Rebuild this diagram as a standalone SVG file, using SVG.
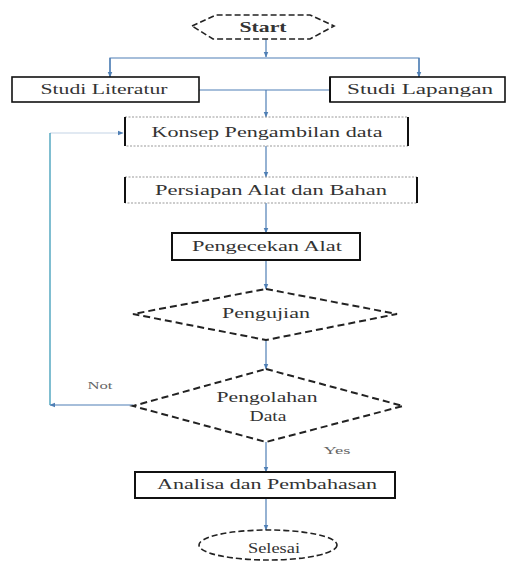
<svg xmlns="http://www.w3.org/2000/svg" width="507" height="561" viewBox="0 0 507 561">
<defs>
<style>
.t{font-family:"Liberation Serif","Times New Roman",serif;font-size:14px;fill:#333;text-anchor:middle}
.s{font-size:11px;fill:#666}
.b{font-weight:bold}
.box{fill:#fff;stroke:#111;stroke-width:1.6}
.lbox{fill:#fff;stroke:#999;stroke-width:1;stroke-dasharray:2 1.5}
.side{stroke:#111;stroke-width:2}
.dash{fill:#fff;stroke:#222;stroke-width:2;stroke-dasharray:7 4}
.c{fill:none;stroke:#4f7fb5;stroke-width:1.2}
.c2{fill:none;stroke:#4aa3bd;stroke-width:1.4}
</style>
<marker id="ah" viewBox="0 0 10 10" refX="9" refY="5" markerWidth="6" markerHeight="6" orient="auto" markerUnits="userSpaceOnUse">
<path d="M0,1 L10,5 L0,9 z" fill="#4f7fb5"/>
</marker>
</defs>
<g id="connectors">
<line class="c" x1="266" y1="39" x2="266" y2="57" marker-end="url(#ah)"/>
<polyline class="c" points="110,77 110,58 419,58 419,77"/>
<line class="c" x1="110" y1="58" x2="110" y2="77" marker-end="url(#ah)"/>
<line class="c" x1="419" y1="58" x2="419" y2="77" marker-end="url(#ah)"/>
<line class="c" x1="199" y1="90" x2="330" y2="90"/>
<line class="c" x1="266" y1="90" x2="266" y2="117" marker-end="url(#ah)"/>
<line class="c" x1="266" y1="146" x2="266" y2="177" marker-end="url(#ah)"/>
<line class="c" x1="266" y1="203" x2="266" y2="233" marker-end="url(#ah)"/>
<line class="c" x1="266" y1="260" x2="266" y2="289" marker-end="url(#ah)"/>
<line class="c" x1="266" y1="340" x2="266" y2="369" marker-end="url(#ah)"/>
<line class="c" x1="133" y1="405" x2="50" y2="405" marker-end="url(#ah)"/>
<polyline class="c2" points="50,405 50,133"/>
<line class="c" x1="50" y1="133" x2="123" y2="133" stroke-opacity="0.35" marker-end="url(#ah)"/>
<line class="c" x1="266" y1="442" x2="266" y2="472" marker-end="url(#ah)"/>
<line class="c" x1="266" y1="498" x2="266" y2="530" marker-end="url(#ah)"/>
<text class="t s" x="100" y="389" textLength="25" lengthAdjust="spacingAndGlyphs">Not</text>
<text class="t s" x="337" y="454" textLength="27" lengthAdjust="spacingAndGlyphs">Yes</text>
</g>
<g id="start">
<polygon class="dash" points="192,26 216,15 310,15 334,26 310,39 213,39" style="stroke-width:1.6;stroke-dasharray:6 3"/>
<text class="t b" x="263" y="32" textLength="47" lengthAdjust="spacingAndGlyphs">Start</text>
</g>
<g id="studi-literatur">
<rect class="box" x="12" y="77" width="187" height="25"/>
<text class="t" x="104" y="94" textLength="127" lengthAdjust="spacingAndGlyphs">Studi Literatur</text>
</g>
<g id="studi-lapangan">
<rect class="box" x="330" y="77" width="175" height="25"/>
<line class="side" x1="330" y1="77" x2="330" y2="102"/>
<text class="t" x="420" y="94" textLength="146" lengthAdjust="spacingAndGlyphs">Studi Lapangan</text>
</g>
<g id="konsep">
<rect class="lbox" x="125" y="117" width="283" height="29"/>
<line class="side" x1="125" y1="117" x2="125" y2="146"/>
<line class="side" x1="408" y1="117" x2="408" y2="146"/>
<text class="t" x="267" y="137" textLength="231" lengthAdjust="spacingAndGlyphs">Konsep Pengambilan data</text>
</g>
<g id="persiapan">
<rect class="lbox" x="125" y="177" width="292" height="26"/>
<line class="side" x1="125" y1="177" x2="125" y2="203"/>
<line class="side" x1="417" y1="177" x2="417" y2="203"/>
<text class="t" x="271" y="195" textLength="232" lengthAdjust="spacingAndGlyphs">Persiapan Alat dan Bahan</text>
</g>
<g id="pengecekan">
<rect class="box" x="172" y="233" width="188" height="27" style="stroke-width:2"/>
<text class="t" x="267" y="251" textLength="150" lengthAdjust="spacingAndGlyphs">Pengecekan Alat</text>
</g>
<g id="pengujian">
<polygon class="dash" points="266,289 397,314 266,340 133,314"/>
<text class="t" x="266" y="318" textLength="88" lengthAdjust="spacingAndGlyphs">Pengujian</text>
</g>
<g id="pengolahan">
<polygon class="dash" points="266,369 403,406 266,442 133,406"/>
<text class="t" x="267" y="402" textLength="101" lengthAdjust="spacingAndGlyphs">Pengolahan</text>
<text class="t" x="268" y="421" textLength="37" lengthAdjust="spacingAndGlyphs">Data</text>
</g>
<g id="analisa">
<rect class="box" x="135" y="472" width="260" height="26" style="stroke-width:2"/>
<text class="t" x="267" y="489" textLength="220" lengthAdjust="spacingAndGlyphs">Analisa dan Pembahasan</text>
</g>
<g id="selesai">
<ellipse class="dash" cx="268" cy="545" rx="69" ry="15" style="stroke-width:1.6;stroke-dasharray:6 3"/>
<text class="t" x="274" y="553" textLength="52" lengthAdjust="spacingAndGlyphs">Selesai</text>
</g>
</svg>
